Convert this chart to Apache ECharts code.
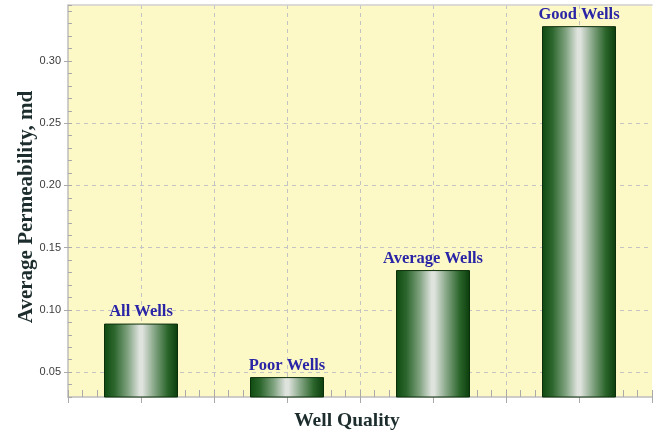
<!DOCTYPE html>
<html>
<head>
<meta charset="utf-8">
<script src="https://cdn.jsdelivr.net/npm/echarts@6/dist/echarts.min.js"></script>
<style>
  html, body { margin: 0; padding: 0; background: #ffffff; }
  #chart { width: 654px; height: 434px; }
</style>
</head>
<body>
<div id="chart"></div>
<script>
// Average permeability by well group
const categories = ['All Wells', 'Poor Wells', 'Average Wells', 'Good Wells'];
const permeability = [0.089, 0.046, 0.132, 0.328];
const yTickLabels = [0.05, 0.10, 0.15, 0.20, 0.25, 0.30];
const yGridValues = [0.05, 0.10, 0.15, 0.20, 0.25];

const Y_MIN = 0.03, Y_MAX = 0.345, Y_STEP = 0.01;
const GRID_COLOR = '#c4c4c4';
const AXIS_COLOR = '#bdbdbd';
const TICK_COLOR = '#a9a9a9';

// one colour per horizontal split line: dashed only where a grid value sits
const splitColors = [];
for (let v = Y_MIN; v <= Y_MAX + 1e-9; v += Y_STEP) {
  const hit = yGridValues.some(g => Math.abs(g - v) < 1e-6);
  splitColors.push(hit ? GRID_COLOR : 'rgba(0,0,0,0)');
}
splitColors.push('rgba(0,0,0,0)');

const cylinder = {
  type: 'linear', x: 0, y: 0, x2: 1, y2: 0,
  colorStops: [
    { offset: 0.00, color: '#0e4a10' },
    { offset: 0.14, color: '#2c662d' },
    { offset: 0.32, color: '#7fa27f' },
    { offset: 0.48, color: '#dfe3de' },
    { offset: 0.52, color: '#dfe3de' },
    { offset: 0.68, color: '#86a686' },
    { offset: 0.86, color: '#2b652b' },
    { offset: 1.00, color: '#0a3c0b' }
  ]
};

const serif = '"Liberation Serif", "DejaVu Serif", serif';

const chart = echarts.init(document.getElementById('chart'), null, { renderer: 'canvas' });
chart.setOption({
  animation: false,
  backgroundColor: '#ffffff',
  grid: {
    left: 68, right: 2, top: 5, bottom: 37,
    outerBoundsMode: 'none', containLabel: false,
    show: true, backgroundColor: '#fdf9c6', borderWidth: 0
  },
  xAxis: [
    {
      type: 'category', data: categories, position: 'bottom',
      axisLine: { show: true, lineStyle: { color: AXIS_COLOR, width: 1.5 } },
      axisTick: { show: false }, axisLabel: { show: false }, splitLine: { show: false },
      name: 'Well Quality', nameLocation: 'middle', nameGap: 14,
      nameTextStyle: { fontFamily: serif, fontWeight: 'bold', fontSize: 19.5, color: '#1d2d2d',
                       verticalAlign: 'top', padding: [0, 26, 0, 0] }
    },
    {
      type: 'value', min: 0, max: 8, interval: 1, position: 'bottom',
      axisLine: { show: false }, axisLabel: { show: false },
      axisTick: { show: true, inside: false, length: 6, lineStyle: { color: TICK_COLOR } },
      splitLine: { show: true, showMinLine: false, showMaxLine: false,
                   lineStyle: { color: GRID_COLOR, type: [4, 4], width: 1 } }
    },
    {
      type: 'value', min: 0, max: 8, interval: 0.2, position: 'bottom',
      axisLine: { show: false }, axisLabel: { show: false }, splitLine: { show: false },
      axisTick: { show: true, inside: true, length: 7, lineStyle: { color: TICK_COLOR } }
    },
    {
      type: 'value', min: 0, max: 8, position: 'top',
      axisLine: { show: true, lineStyle: { color: '#cfcfcf', width: 1.5 } },
      axisTick: { show: false }, axisLabel: { show: false }, splitLine: { show: false }
    }
  ],
  yAxis: [
    {
      type: 'value', min: Y_MIN, max: Y_MAX, interval: Y_STEP, position: 'left',
      axisLine: { show: true, lineStyle: { color: AXIS_COLOR, width: 1.5 } },
      axisTick: { show: true, inside: true, length: 4, lineStyle: { color: TICK_COLOR } },
      axisLabel: { show: false },
      splitLine: { show: true, lineStyle: { color: splitColors, type: [4, 4], width: 1 } },
      name: 'Average Permeability, md', nameLocation: 'middle', nameGap: 31, nameRotate: 90,
      nameTextStyle: { fontFamily: serif, fontWeight: 'bold', fontSize: 21, color: '#1d2d2d',
                       padding: [0, 12, 0, 0] }
    },
    {
      type: 'value', min: Y_MIN, max: Y_MAX, interval: Y_STEP, position: 'left',
      axisLine: { show: false }, splitLine: { show: false },
      axisTick: { show: true, inside: false, length: 4, customValues: yTickLabels,
                  lineStyle: { color: TICK_COLOR } },
      axisLabel: { show: true, customValues: yTickLabels, margin: 7,
                   fontFamily: '"Liberation Sans", Arial, sans-serif', fontSize: 11, color: '#3c3c3c',
                   formatter: v => v.toFixed(2) }
    }
  ],
  series: [
    {
      type: 'bar', xAxisIndex: 0, yAxisIndex: 0,
      data: permeability, barWidth: 74, z: 3,
      itemStyle: { color: cylinder, borderColor: '#0b2e0b', borderWidth: 1 },
      label: {
        show: true, position: 'top', distance: 3,
        formatter: p => categories[p.dataIndex],
        fontFamily: serif, fontWeight: 'bold', fontSize: 16.5, color: '#2a25a6'
      }
    }
  ]
});
</script>
</body>
</html>
